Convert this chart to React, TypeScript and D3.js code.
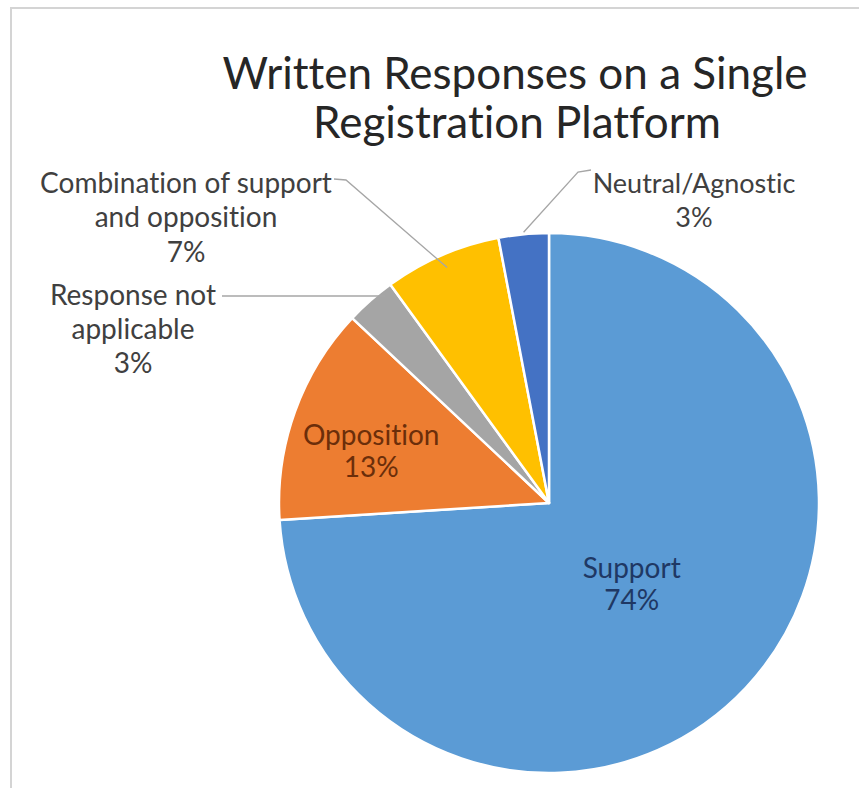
import React from "react";
import * as d3 from "d3";

const categories = ["Support", "Opposition", "Response not applicable", "Combination of support and opposition", "Neutral/Agnostic"];
const values = [74, 13, 3, 7, 3];
const colors = ["#5B9BD5", "#ED7D31", "#A5A5A5", "#FFC000", "#4472C4"];
const titleLines = ["Written Responses on a Single", "Registration Platform"];

const W = 859, H = 788;
const cx = 549, cy = 503, R = 270;
const FONT = "Lato, 'Open Sans', sans-serif";

export default function App() {
  const pie = d3.pie<number>().sort(null).value((d) => d)(values);
  const arc = d3.arc<d3.PieArcDatum<number>>().innerRadius(0).outerRadius(R);
  const total = d3.sum(values);
  const pct = (v: number) => `${Math.round((v / total) * 100)}%`;

  const ring = (i: number, k: number) =>
    d3.arc<d3.PieArcDatum<number>>().innerRadius(R * k).outerRadius(R * k).centroid(pie[i]);
  const pSupport = ring(0, 0.42);
  const pOpp = ring(1, 0.7);
  const eResp = ring(2, 0.92);
  const eComb = ring(3, 0.95);
  const eNeut = ring(4, 1.0);

  const noLig = { fontVariantLigatures: "none" as const, fontFeatureSettings: "'liga' 0" };
  const outLabel = { fontFamily: FONT, fontSize: 28, fill: "#404040", textAnchor: "middle" as const, style: noLig };

  return (
    <svg width={W} height={H} style={{ position: "absolute", left: 0, top: 0, background: "#fff" }}>
      <rect x={0} y={0} width={W} height={H} fill="#fff" />
      <line x1={10} y1={8} x2={W} y2={8} stroke="#d4d4d4" strokeWidth={2} />
      <line x1={11} y1={8} x2={11} y2={H} stroke="#d4d4d4" strokeWidth={2} />
      <text x={515} y={89} textAnchor="middle" fontFamily={FONT} fontSize={44} fill="#262626" style={noLig}>{titleLines[0]}</text>
      <text x={517} y={138} textAnchor="middle" fontFamily={FONT} fontSize={44} fill="#262626" style={noLig}>{titleLines[1]}</text>

      <g transform={`translate(${cx},${cy})`}>
        {pie.map((p, i) => (
          <path key={i} d={arc(p) || ""} fill={colors[i]} stroke="#fff" strokeWidth={2.5} strokeLinejoin="round" />
        ))}
        <text fontFamily={FONT} fontSize={28} fill="#1f3864" textAnchor="middle" style={noLig}>
          <tspan x={pSupport[0]} y={pSupport[1] - 3}>{categories[0]}</tspan>
          <tspan x={pSupport[0]} y={pSupport[1] + 29}>{pct(values[0])}</tspan>
        </text>
        <text fontFamily={FONT} fontSize={28} fill="#6b2e0a" textAnchor="middle" style={noLig}>
          <tspan x={pOpp[0]} y={pOpp[1] + 6}>{categories[1]}</tspan>
          <tspan x={pOpp[0]} y={pOpp[1] + 38}>{pct(values[1])}</tspan>
        </text>
      </g>

      {/* leader lines */}
      <polyline points={`${222},${296} ${cx + eResp[0]},${296} ${cx + eResp[0]},${cy + eResp[1]}`} fill="none" stroke="#a6a6a6" strokeWidth={1.3} />
      <polyline points={`${334},${179} ${346},${180} ${cx + eComb[0]},${cy + eComb[1]}`} fill="none" stroke="#a6a6a6" strokeWidth={1.3} />
      <polyline points={`${591},${170} ${578},${172} ${cx + eNeut[0]},${cy + eNeut[1] - 2}`} fill="none" stroke="#a6a6a6" strokeWidth={1.3} />

      <text {...outLabel}>
        <tspan x={186} y={193}>Combination of support</tspan>
        <tspan x={186} y={227}>and opposition</tspan>
        <tspan x={186} y={262}>7%</tspan>
      </text>
      <text {...outLabel}>
        <tspan x={133} y={305}>Response not</tspan>
        <tspan x={133} y={339}>applicable</tspan>
        <tspan x={133} y={373}>3%</tspan>
      </text>
      <text {...outLabel} fontSize={27}>
        <tspan x={694} y={193}>Neutral/Agnostic</tspan>
        <tspan x={694} y={227}>{pct(values[4])}</tspan>
      </text>
    </svg>
  );
}
